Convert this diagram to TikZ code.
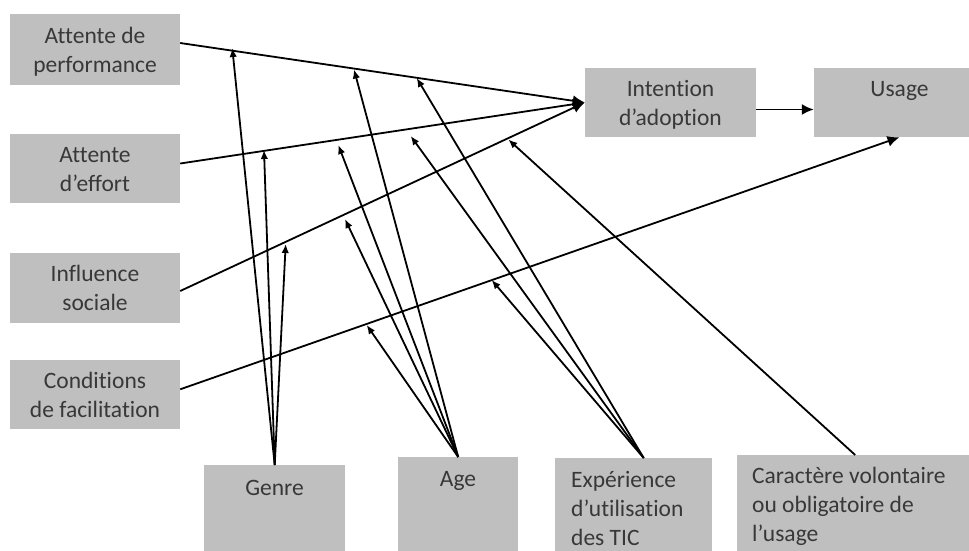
\documentclass[tikz,border=0pt]{standalone}
\usepackage{fontspec}
\setmainfont{Carlito}[Ligatures=NoCommon]
\usetikzlibrary{arrows.meta}
\definecolor{boxgray}{HTML}{BFBFBF}
\definecolor{txtgray}{HTML}{383838}
\newcommand\tallstrut{\rule{0pt}{25pt}}
\begin{document}
\begin{tikzpicture}[x=1pt,y=-1pt,
  txt/.style={inner sep=0pt, text=txtgray, font=\fontsize{23.5}{29}\selectfont},
  box/.style={txt, fill=boxgray, draw=none, align=center},
  conn/.style={line width=1.8pt, -{Latex[length=9pt,width=7.5pt]}},
  mainarr/.style={line width=1.8pt, -{Latex[length=12pt,width=11pt]}}]
\useasboundingbox (0,0) rectangle (969,550);
\clip (0,0) rectangle (969,550);
% left boxes
\node[box, minimum width=170pt, minimum height=71pt] (perf) at (95,49.5) {\tallstrut Attente de\\performance\strut};
\node[box, minimum width=170pt, minimum height=69pt] (effort) at (95,168.5) {\tallstrut Attente\\d’effort\strut};
\node[box, minimum width=170pt, minimum height=70pt] (infl) at (95,288) {\tallstrut Influence\\sociale\strut};
\node[box, minimum width=170pt, minimum height=69pt] (facil) at (95,394.7) {\tallstrut Conditions\\de facilitation\strut};
% right boxes
\node[box, minimum width=171pt, minimum height=69pt] (intent) at (670.5,102.5) {\tallstrut Intention\\d’adoption\strut};
\node[box, minimum width=171pt, minimum height=69pt] (usage) at (899.5,102.5) {\tallstrut Usage\\\strut};
% bottom boxes
\node[box, minimum width=141pt, minimum height=100pt, anchor=north west] (genre) at (204,465) {};
\node[box, minimum width=120pt, minimum height=100pt, anchor=north west] (age) at (398,457) {};
\node[box, minimum width=157pt, minimum height=100pt, anchor=north west] (exp) at (555,458) {};
\node[box, minimum width=236pt, minimum height=100pt, anchor=north west] (carac) at (737,455) {};
\node[txt] (genreT) at (274.5,488) {Genre};
\node[txt] (ageT) at (458,481) {Age};
\node[txt, anchor=north west, align=left] (expT) at (571,467) {\strut Expérience\\d’utilisation\\des TIC};
\node[txt, anchor=north west, align=left] (caracT) at (752,463) {\strut Caractère volontaire\\ou obligatoire de\\l’usage};
% main connectors
\draw[mainarr] ([yshift=6.5pt]perf.east) -- (intent.west);
\draw[mainarr] ([yshift=5pt]effort.east) -- (intent.west);
\draw[mainarr] ([yshift=-3pt]infl.east) -- (intent.west);
\draw[mainarr] ([yshift=5.4pt]facil.east) -- (usage.south);
\draw[mainarr] ([yshift=-7pt]intent.east) -- ([yshift=-7pt]usage.west);
% moderator targets
\coordinate (g1) at (232.3,48);
\coordinate (g2) at (264,150);
\coordinate (g3) at (285.7,244);
\coordinate (a1) at (354,69.5);
\coordinate (a2) at (338.3,145);
\coordinate (a3) at (345,219);
\coordinate (a4) at (366.7,325);
\coordinate (e1) at (416.7,78);
\coordinate (e2) at (410.7,136);
\coordinate (e3) at (491.7,280);
\coordinate (c1) at (508.3,139.5);
\coordinate (expS) at ([xshift=10pt]exp.north);
% moderator connectors
\draw[conn] (genre.north) -- (g1);
\draw[conn] (genre.north) -- (g2);
\draw[conn] (genre.north) -- (g3);
\draw[conn] (age.north) -- (a1);
\draw[conn] (age.north) -- (a2);
\draw[conn] (age.north) -- (a3);
\draw[conn] (age.north) -- (a4);
\draw[conn] (expS) -- (e1);
\draw[conn] (expS) -- (e2);
\draw[conn] (expS) -- (e3);
\draw[conn] (carac.north) -- (c1);
\end{tikzpicture}
\end{document}
